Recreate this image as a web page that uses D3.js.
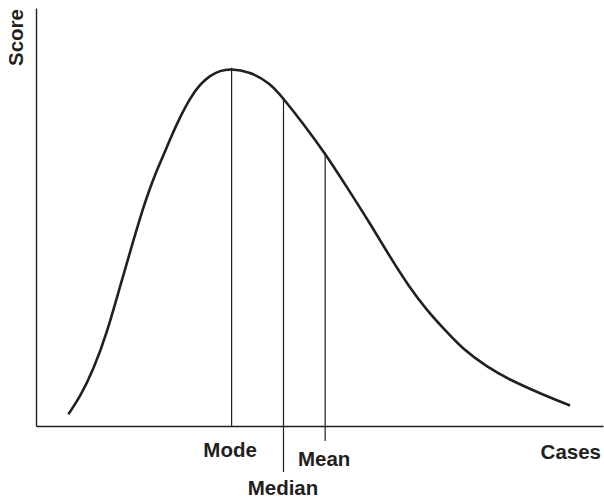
<!DOCTYPE html>
<html>
<head>
<meta charset="utf-8">
<script src="https://cdn.jsdelivr.net/npm/d3@7"></script>
<style>
  body { margin: 0; background: #fff; }
  svg text { font-family: "Liberation Sans", Arial, Helvetica, sans-serif; font-weight: bold; fill: #231f20; }
</style>
</head>
<body>
<svg width="604" height="501"></svg>
<script>
'use strict'

// curve (cases on x, score on y, arbitrary 0-100 units)
const cases = [5.7, 7.8, 10.1, 12.5, 14.8, 17.2, 18.9, 20.1, 21.3, 22.5, 23.6, 25.4, 27.2, 28.9,
    30.7, 32.5, 34.2, 37.7, 41.3, 43.6, 47.1, 51.0, 54.8, 58.9, 62.4, 66.0, 68.9, 71.8, 75.4,
    79.5, 83.6, 88.9, 94.2]
const scores = [2.8, 7.0, 13.4, 22.2, 33.3, 44.5, 52.2, 56.9, 61.2, 64.8, 68.5, 73.9, 78.5, 81.7,
    83.9, 85.0, 85.5, 84.8, 82.0, 78.4, 72.4, 65.2, 57.2, 48.5, 40.5, 32.9, 27.8, 23.4, 18.2,
    14.2, 11.0, 7.8, 4.9]

const statNames = ['Mode', 'Median', 'Mean']
const statValues = [34.5, 43.65, 51.0]

const axisLabels = ['Cases', 'Score']

const ink = '#231f20'
const svg = d3.select('svg')

const xScale = d3.scaleLinear().domain([0, 100]).range([36, 603])
const yScale = d3.scaleLinear().domain([0, 100]).range([426, 8])

const points = cases.map((c, i) => ({x: c, y: scores[i]}))

// score at a given x, so the marker lines stop on the curve
const scoreAt = (x) => {
    const i = d3.bisector(d => d.x).left(points, x)
    if (i <= 0) return points[0].y
    if (i >= points.length) return points[points.length - 1].y
    const a = points[i - 1], b = points[i]
    return a.y + (b.y - a.y) * (x - a.x) / (b.x - a.x)
}

// axes, no ticks
svg.append('g')
    .attr('transform', `translate(0, ${yScale(0)})`)
    .call(d3.axisBottom(xScale).ticks(0).tickSizeOuter(0))
    .call(g => g.select('.domain').attr('stroke', ink).attr('stroke-width', 1.4))

svg.append('g')
    .attr('transform', `translate(${xScale(0)}, 0)`)
    .call(d3.axisLeft(yScale).ticks(0).tickSizeOuter(0))
    .call(g => g.select('.domain').attr('stroke', ink).attr('stroke-width', 1.4))

// marker lines (how far each drops below the axis to reach its label)
const drop = [0, 46, 15]
const labelY = [457, 495, 466]
const labelDx = [-1.5, -0.5, -1]

svg.selectAll('.stat')
    .data(statNames)
    .enter()
    .append('line')
    .attr('class', 'stat')
    .attr('x1', (d, i) => xScale(statValues[i]))
    .attr('x2', (d, i) => xScale(statValues[i]))
    .attr('y1', (d, i) => yScale(scoreAt(statValues[i])) - 1)
    .attr('y2', (d, i) => yScale(0) + drop[i])
    .attr('stroke', ink)
    .attr('stroke-width', 1.2)

svg.selectAll('.statLabel')
    .data(statNames)
    .enter()
    .append('text')
    .attr('class', 'statLabel')
    .attr('x', (d, i) => xScale(statValues[i]) + labelDx[i])
    .attr('y', (d, i) => labelY[i])
    .attr('text-anchor', 'middle')
    .attr('font-size', 20.5)
    .text(d => d)

// the curve
const line = d3.line()
    .x(d => xScale(d.x))
    .y(d => yScale(d.y))
    .curve(d3.curveBasis)

svg.append('path')
    .datum(points)
    .attr('d', line)
    .attr('fill', 'none')
    .attr('stroke', ink)
    .attr('stroke-width', 2.6)

// axis titles
svg.append('text')
    .attr('x', 601)
    .attr('y', 459)
    .attr('text-anchor', 'end')
    .attr('font-size', 20.5)
    .text(axisLabels[0])

svg.append('text')
    .attr('transform', 'translate(23, 37.5) rotate(-90)')
    .attr('text-anchor', 'middle')
    .attr('font-size', 20.5)
    .text(axisLabels[1])
</script>
</body>
</html>
